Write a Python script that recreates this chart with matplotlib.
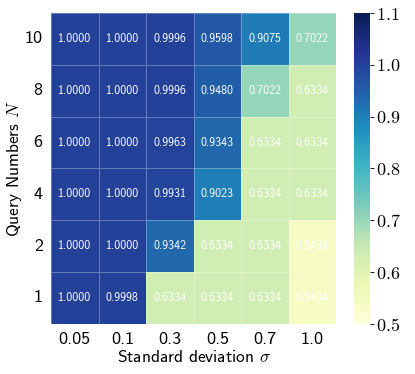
import matplotlib
matplotlib.use("Agg")
import matplotlib.pyplot as plt
import seaborn as sns
import numpy as np

plt.rcParams['font.family'] = ['cmss10']
plt.rcParams['mathtext.fontset'] = 'cm'
plt.rcParams['axes.unicode_minus'] = False

sigmas = ["0.05", "0.1", "0.3", "0.5", "0.7", "1.0"]
queries = ["10", "8", "6", "4", "2", "1"]
row_10 = [1.0000, 1.0000, 0.9996, 0.9598, 0.9075, 0.7022]
row_8 = [1.0000, 1.0000, 0.9996, 0.9480, 0.7022, 0.6334]
row_6 = [1.0000, 1.0000, 0.9963, 0.9343, 0.6334, 0.6334]
row_4 = [1.0000, 1.0000, 0.9931, 0.9023, 0.6334, 0.6334]
row_2 = [1.0000, 1.0000, 0.9342, 0.6334, 0.6334, 0.5434]
row_1 = [1.0000, 0.9998, 0.6334, 0.6334, 0.6334, 0.5434]

acc = np.array([row_10, row_8, row_6, row_4, row_2, row_1])

fig = plt.figure(figsize=(4.15, 3.74), dpi=100)
ax = fig.add_axes([0.123, 0.134, 0.687, 0.831])
cax = fig.add_axes([0.853, 0.134, 0.0386, 0.831])

sns.heatmap(acc, ax=ax, cbar_ax=cax, cmap="YlGnBu", vmin=0.5, vmax=1.1,
            annot=True, fmt=".4f", annot_kws={"color": "white", "fontsize": 8.5},
            linewidths=0.5, linecolor=(1, 1, 1, 0.3),
            xticklabels=sigmas, yticklabels=queries)

ax.tick_params(length=0, labelsize=13, pad=6)
ax.set_yticklabels(queries, rotation=0)
ax.set_xlabel(r"Standard deviation $\sigma$", fontsize=12.5, labelpad=1)
ax.set_ylabel(r"Query Numbers $N$", fontsize=12.5)
ax.yaxis.set_label_coords(-0.095, 0.5)

cb = ax.collections[0].colorbar
cb.outline.set_visible(False)
cb.set_ticks([0.5, 0.6, 0.7, 0.8, 0.9, 1.0, 1.1])
cb.set_ticklabels([r"$0.5$", r"$0.6$", r"$0.7$", r"$0.8$", r"$0.9$", r"$1.0$", r"$1.1$"])
cax.tick_params(labelsize=13, length=3, width=0.6, pad=1)

fig.savefig("out.png", dpi=100)
